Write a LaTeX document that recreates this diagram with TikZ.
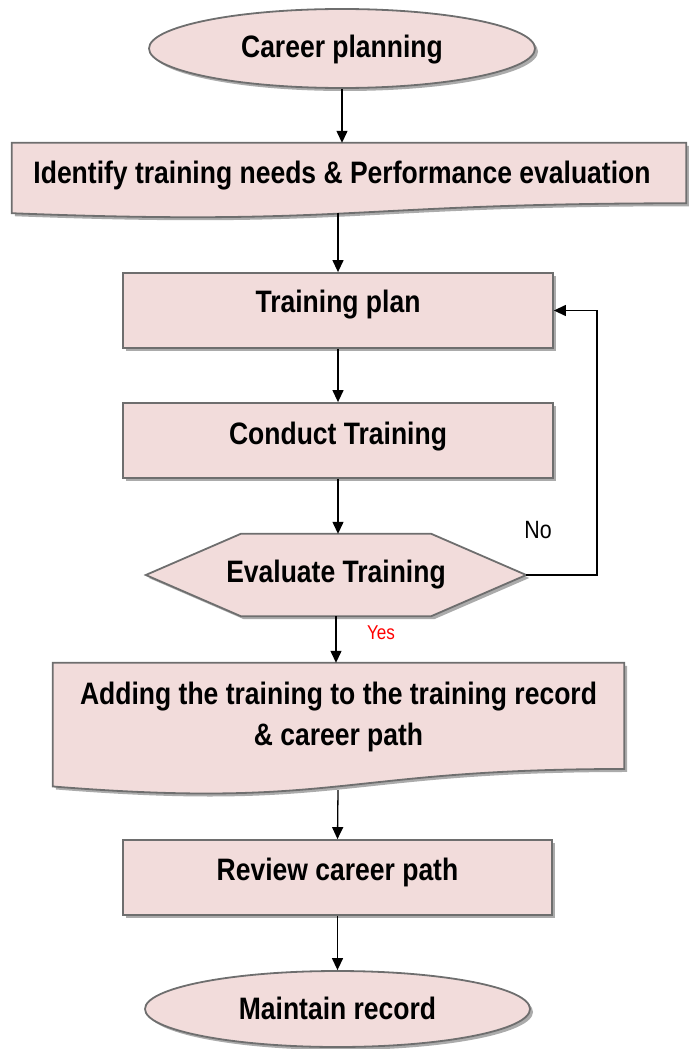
\documentclass[tikz,border=0pt]{standalone}
\usepackage{fontspec}
\setmainfont{Liberation Sans}[FakeStretch=0.855]
\usepackage{xcolor}
\usetikzlibrary{shapes, positioning, arrows.meta, calc, shadows, backgrounds}

\definecolor{rosa}{HTML}{F2DCDB}
\definecolor{borde}{HTML}{6E6E6E}
\definecolor{sombra}{HTML}{ABABAB}

\tikzset{
  sombreado/.style={drop shadow={shadow xshift=3pt, shadow yshift=-3pt, fill=sombra, opacity=1}},
  caja/.style={rectangle, draw=borde, fill=rosa, line width=1.8pt, sombreado, minimum width=430pt, minimum height=75pt, inner sep=0pt},
  elipse/.style={ellipse, draw=borde, fill=rosa, line width=1.8pt, sombreado, inner sep=0pt},
  hueco/.style={rectangle, inner sep=0pt},
  texto/.style={font=\bfseries\fontsize{31}{41}\selectfont, text depth=0pt, text height=#1},
  contorno/.style={draw=borde, fill=rosa, line width=1.8pt, sombreado},
  flecha/.style={-{Triangle[length=12pt,width=11pt]}, line width=1.3pt}
}

\begin{document}
\begin{tikzpicture}[x=1pt, y=-1pt]

\useasboundingbox (0,0) rectangle (688,1049);  % Marco de la figura

% Nodos del flujo
\node[elipse, texto=19pt, minimum width=386pt, minimum height=79pt] (career) at (342,48.5) {Career planning};  % Inicio
\node[hueco, texto=5pt, minimum width=674pt, minimum height=75pt] (needs) at (349,180.5) {Identify training needs \& Performance evaluation\hspace*{14pt}};  % Documento
\node[caja, texto=3pt] (plan) at (338,310.5) {Training plan};
\node[caja, texto=7pt] (conduct) at (338,440.5) {Conduct Training};
\node[hueco, texto=14pt, minimum width=380pt, minimum height=82pt] (evaluate) at (336,575) {Evaluate Training};  % Decision
\node[hueco, texto=32pt, align=center, minimum width=571pt, minimum height=132pt] (adding) at (338.5,729) {Adding the training to the training record\\ \& career path};  % Documento
\node[caja, texto=5pt, minimum width=429pt] (review) at (337.5,877.5) {Review career path};
\node[elipse, texto=21pt, minimum width=385pt, minimum height=76pt] (record) at (337.5,1009) {Maintain record};  % Fin

% Formas dibujadas detras del texto
\begin{scope}[on background layer]
\draw[contorno] (needs.north west) -- (needs.north east) -- ($(needs.north east)!0.802!(needs.south east)$) .. controls ($(needs.north)!0.802!(needs.south)$) and ($(needs.north)!1.107!(needs.south)$) .. ($(needs.north west)!0.934!(needs.south west)$) -- cycle;  % Documento 1
\draw[contorno] (evaluate.west) -- ($(evaluate.north west)+(95,0)$) -- ($(evaluate.north east)+(-95,0)$) -- (evaluate.east) -- ($(evaluate.south east)+(-95,0)$) -- ($(evaluate.south west)+(95,0)$) -- cycle;  % Hexagono
\draw[contorno] (adding.north west) -- (adding.north east) -- ($(adding.north east)!0.802!(adding.south east)$) .. controls ($(adding.north)!0.802!(adding.south)$) and ($(adding.north)!1.107!(adding.south)$) .. ($(adding.north west)!0.934!(adding.south west)$) -- cycle;  % Documento 2
\end{scope}

% Puntos auxiliares
\coordinate (needs-b) at (338,213);  % Borde inferior del documento 1
\coordinate (adding-b) at (338,790);  % Borde inferior del documento 2
\coordinate (back) at (597,575);  % Esquina del retorno

% Flechas
\draw[flecha] (career.south) -- (career.south |- needs.north);
\draw[flecha] (needs-b) -- (plan.north);
\draw[flecha] (plan.south) -- (conduct.north);
\draw[flecha] (conduct.south) -- (conduct.south |- evaluate.north);
\draw[flecha] (evaluate.south) -- (evaluate.south |- adding.north);
\draw[flecha] (adding-b) -- (review.north);
\draw[flecha] (review.south) -- (record.north);
\draw[flecha] (evaluate.east) -- (back) |- (plan.east);  % Retorno "No"

% Etiquetas
\node[font=\fontsize{25}{30}\selectfont] (no) at (538,530) {No};
\node[font=\fontsize{20}{24}\selectfont, text=red] (yes) at (381,633) {Yes};

\end{tikzpicture}
\end{document}
